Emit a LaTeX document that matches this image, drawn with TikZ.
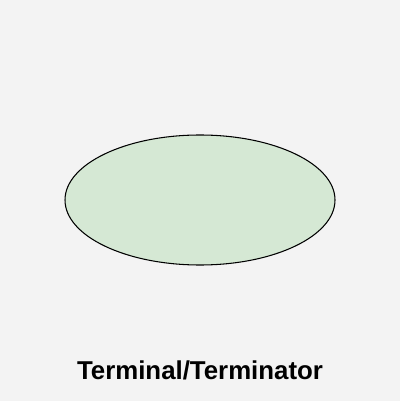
\documentclass[tikz,border=0pt]{standalone}
\usepackage{fontspec}
\setmainfont{Liberation Sans}
\definecolor{canvasgray}{HTML}{F3F3F3}
\definecolor{termgreen}{HTML}{D5E8D4}
\tikzset{
  terminal/.style={draw=black, fill=termgreen, line width=0.6pt},
  caption/.style={font=\fontsize{14.7}{17}\selectfont\bfseries, inner sep=0pt}
}
\begin{document}
\begin{tikzpicture}[x=0.02cm, y=-0.02cm]
  % canvas
  \fill[canvasgray] (0,0) rectangle (400,401);
  \useasboundingbox (0,0) rectangle (400,401);

  % terminal symbol
  \draw[terminal] (200,200) ellipse[x radius=135, y radius=65];

  % caption
  \node[caption] (label) at (200,370) {Terminal/Terminator};
\end{tikzpicture}
\end{document}
